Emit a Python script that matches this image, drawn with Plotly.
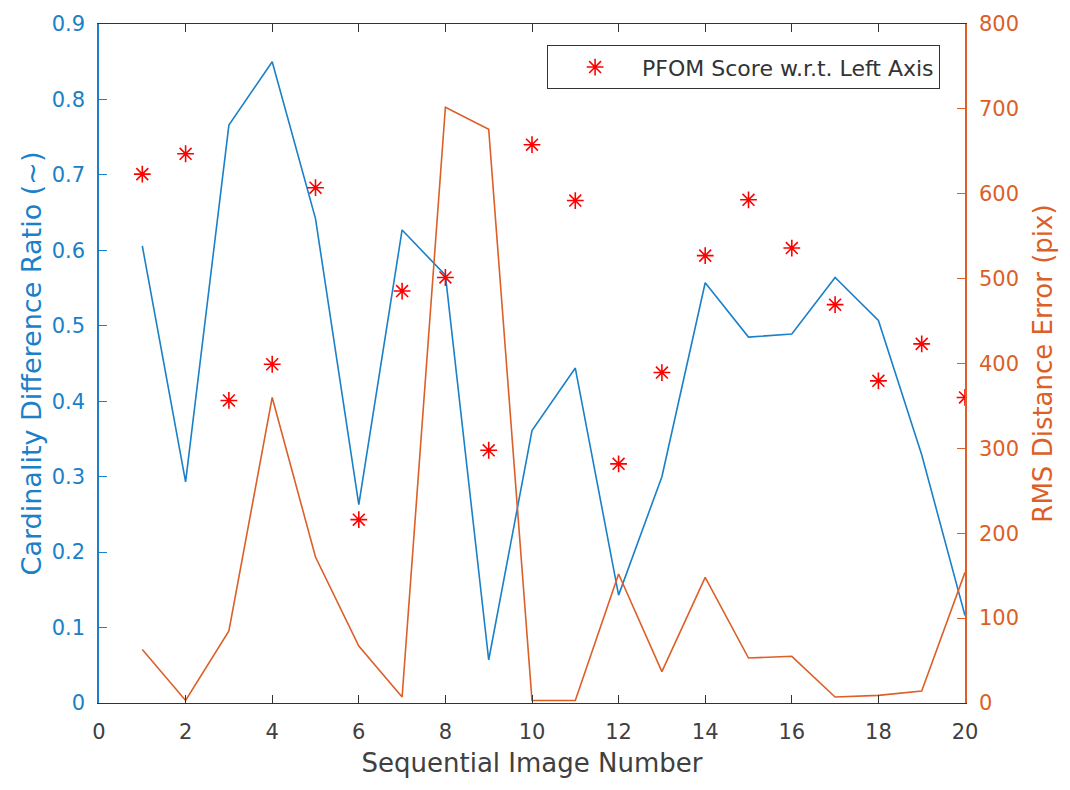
import plotly.graph_objects as go

image_no = list(range(1, 21))
cardinality_ratio = [0.606, 0.293, 0.766, 0.850, 0.642, 0.263, 0.627, 0.567, 0.057, 0.361,
                     0.444, 0.143, 0.300, 0.557, 0.485, 0.489, 0.564, 0.507, 0.329, 0.116]
rms_error = [63, 3, 85, 360, 172, 67, 7, 702, 676, 3,
             3, 152, 37, 148, 53, 55, 7, 9, 14, 154]
pfom_score = [0.701, 0.728, 0.401, 0.449, 0.683, 0.243, 0.546, 0.564, 0.335, 0.740,
              0.666, 0.317, 0.438, 0.593, 0.667, 0.603, 0.528, 0.427, 0.476, 0.405]

BLUE = "#1A80C8"
ORANGE = "#DC5F28"
GRAY = "#333333"
TXT = "#404040"
FONT = "DejaVu Sans"

fig = go.Figure()
fig.add_trace(go.Scatter(x=image_no, y=cardinality_ratio, mode="lines",
                         line=dict(color=BLUE, width=1.6), showlegend=False))
fig.add_trace(go.Scatter(x=image_no, y=rms_error, mode="lines", yaxis="y2",
                         line=dict(color=ORANGE, width=1.6), showlegend=False))
fig.add_trace(go.Scatter(x=image_no, y=pfom_score, mode="markers",
                         name="PFOM Score w.r.t. Left Axis",
                         marker=dict(symbol="asterisk-open", size=14, color="#FF0000",
                                     line=dict(color="#FF0000", width=1.6))))

fig.update_layout(
    width=1070, height=790,
    margin=dict(l=99, r=105, t=19, b=87),
    paper_bgcolor="white", plot_bgcolor="white",
    font=dict(family=FONT, size=21, color=TXT),
    xaxis=dict(range=[0, 20], dtick=2, tick0=0, showgrid=False, zeroline=False,
               showline=True, linecolor=GRAY, linewidth=1.2, mirror="ticks",
               ticks="inside", ticklen=8, tickcolor=GRAY, tickwidth=1.2,
               tickfont=dict(size=21, color=TXT), ticklabelstandoff=10,
               title=dict(text="Sequential Image Number", standoff=10,
                          font=dict(size=26, color=TXT))),
    yaxis=dict(range=[0, 0.9], dtick=0.1, tick0=0, showgrid=False, zeroline=False,
               showline=True, linecolor=BLUE, linewidth=1.5,
               ticks="inside", ticklen=8, tickcolor=BLUE, tickwidth=1.2,
               tickfont=dict(size=21, color=BLUE), ticklabelstandoff=8,
               title=dict(text="Cardinality Difference Ratio (~)", standoff=2,
                          font=dict(size=27, color=BLUE))),
    yaxis2=dict(range=[0, 800], dtick=100, tick0=0, overlaying="y", side="right",
                showgrid=False, zeroline=False,
                showline=True, linecolor=ORANGE, linewidth=1.5,
                ticks="inside", ticklen=8, tickcolor=ORANGE, tickwidth=1.2,
                tickfont=dict(size=21, color=ORANGE), ticklabelstandoff=8,
                title=dict(text="RMS Distance Error (pix)", standoff=16,
                           font=dict(size=26, color=ORANGE))),
    legend=dict(x=0.971, y=0.969, xanchor="right", yanchor="top",
                bgcolor="white", bordercolor=GRAY, borderwidth=1.2,
                font=dict(size=22, color=GRAY), itemwidth=84),
)

fig.write_html("out.html")
